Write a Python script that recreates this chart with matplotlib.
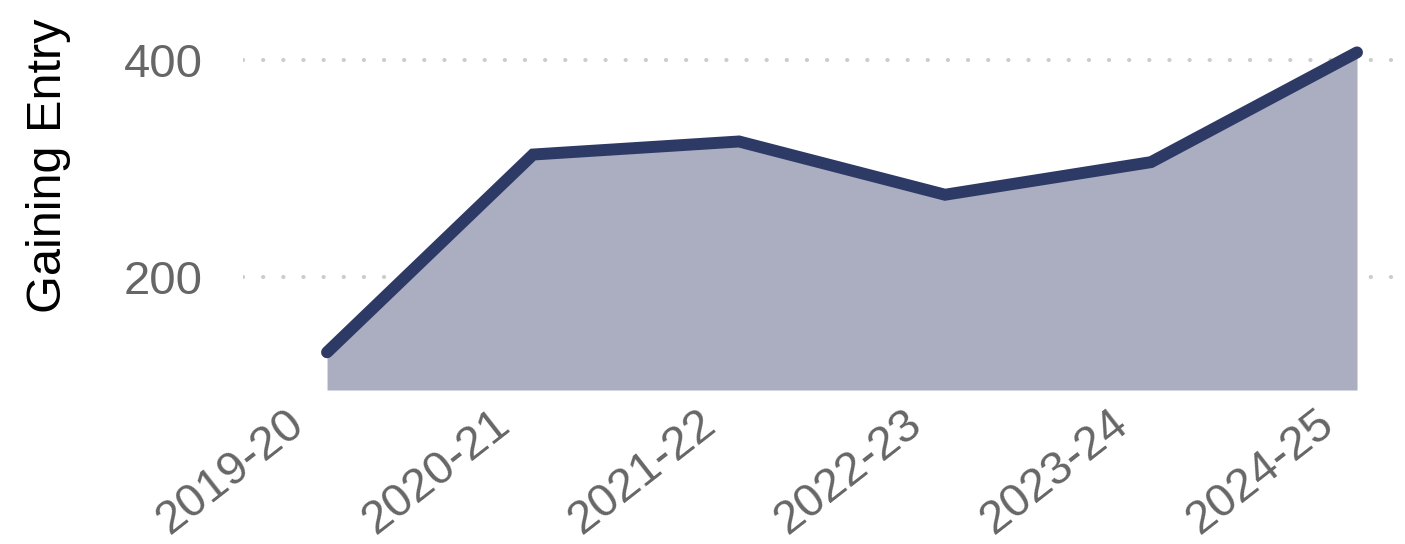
import numpy as np
import matplotlib
matplotlib.use("Agg")
import matplotlib.pyplot as plt
from matplotlib.transforms import ScaledTranslation

years = ["2019-20", "2020-21", "2021-22", "2022-23", "2023-24", "2024-25"]
gaining_entry = [131, 313, 325, 276, 306, 407]

plt.rcParams["font.family"] = ["Liberation Sans", "DejaVu Sans"]
plt.rcParams["lines.scale_dashes"] = False

fig = plt.figure(figsize=(14.05, 5.44), dpi=100)
ax = fig.add_axes([243 / 1405, 154 / 544, 1 - 243 / 1405, 360 / 544])

x = np.arange(len(years))
ymin, ymax = 96.3, 427.6
ax.fill_between(x, ymin, gaining_entry, color="#aaaec0", linewidth=0)
ax.plot(x, gaining_entry, color="#2e3a66", linewidth=8.6,
        solid_capstyle="round", solid_joinstyle="miter", clip_on=False, zorder=3)

ax.set_xlim(-0.408, 5.233)
ax.set_ylim(ymin, ymax)
ax.set_yticks([200, 400])
ax.set_xticks(x)
ax.set_xticklabels(years)

# dotted horizontal gridlines
ax.yaxis.grid(True, color="#cccccc", linewidth=3, linestyle=(0, (0.1, 14.4)),
              dash_capstyle="round")
ax.set_axisbelow(True)

for s in ax.spines.values():
    s.set_visible(False)
ax.tick_params(axis="both", length=0, colors="#666666", labelsize=34)
ax.tick_params(axis="y", pad=29)

for lab in ax.get_xticklabels():
    lab.set_rotation(38)
    lab.set_ha("right")
    lab.set_va("center")
    lab.set_rotation_mode("anchor")
    lab.set_transform(lab.get_transform() + ScaledTranslation(-0.28, -0.24, fig.dpi_scale_trans))

ax.set_ylabel("Gaining Entry", fontsize=35, color="black")
ax.yaxis.set_label_coords(-0.148, 0.622)

fig.savefig("out.png", dpi=100)
